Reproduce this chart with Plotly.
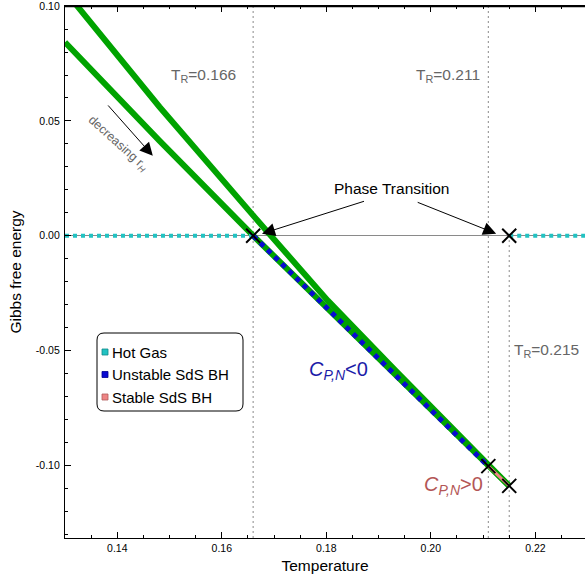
import plotly.graph_objects as go

# ---- data ----
# upper green branch of G(T)
T_upper = [0.1300, 0.1325, 0.1481, 0.1662, 0.1803, 0.1932, 0.2110, 0.2150]
G_upper = [0.1066, 0.0996, 0.0561, 0.0083, -0.0283, -0.0587, -0.0991, -0.1090]
# lower green branch of G(T)
T_lower = [0.1300, 0.1481, 0.1660, 0.1932, 0.2110, 0.2150]
G_lower = [0.0843, 0.0413, 0.0000, -0.0609, -0.1004, -0.1090]
# hot gas phase (G = 0)
T_gas = [0.1300, 0.1660, None, 0.2150, 0.2300]
G_gas = [0.0, 0.0, None, 0.0, 0.0]
# phase-transition / end points (crosses)
T_cross = [0.166, 0.215, 0.211, 0.215]
G_cross = [0.0, 0.0, -0.1004, -0.1090]
# T_R values (vertical dotted lines)
T_R = [0.166, 0.211, 0.215]

legend_names = ["Hot Gas", "Unstable SdS BH", "Stable SdS BH"]

x_ticks = [0.14, 0.16, 0.18, 0.20, 0.22]
x_ticktext = ["0.14", "0.16", "0.18", "0.20", "0.22"]
y_ticks = [0.10, 0.05, 0.0, -0.05, -0.10]
y_ticktext = ["0.10", "0.05", "0.00", "-0.05", "-0.10"]

GREEN = "#00a300"
BLUE = "#0a0ad2"
CYAN = "#22c2c2"
PINK = "#ee8585"
FONT = "Liberation Sans, Arial, sans-serif"

W, H = 585, 580
ML, MR, MT, MB = 65, 0, 6, 42
PW, PH = W - ML - MR, H - MT - MB
Y_RANGE = [-0.1317, 0.10008]


def px2paper(px, py):
    return (px - ML) / PW, 1 - (py - MT) / PH


# unstable / stable parts of the lower branch
T_unst = [t for t in T_lower if T_R[0] <= t <= T_R[1]]
G_unst = [g for t, g in zip(T_lower, G_lower) if T_R[0] <= t <= T_R[1]]
T_stab = [t for t in T_lower if T_R[1] <= t <= T_R[2]]
G_stab = [g for t, g in zip(T_lower, G_lower) if T_R[1] <= t <= T_R[2]]

fig = go.Figure()

fig.add_trace(go.Scatter(x=T_upper, y=G_upper, mode="lines",
                         line=dict(color=GREEN, width=6), showlegend=False, hoverinfo="skip"))
fig.add_trace(go.Scatter(x=T_lower, y=G_lower, mode="lines",
                         line=dict(color=GREEN, width=6), showlegend=False, hoverinfo="skip"))
fig.add_trace(go.Scatter(x=T_gas, y=G_gas, mode="lines", connectgaps=False, name=legend_names[0],
                         line=dict(color=CYAN, width=4, dash="4px,4px"), showlegend=False))
fig.add_trace(go.Scatter(x=T_unst, y=G_unst, mode="lines", name=legend_names[1],
                         line=dict(color=BLUE, width=5, dash="5px,5px"), showlegend=False))
fig.add_trace(go.Scatter(x=T_stab, y=G_stab, mode="lines", name=legend_names[2],
                         line=dict(color=PINK, width=3), showlegend=False))
fig.add_trace(go.Scatter(x=T_cross, y=G_cross, mode="markers",
                         marker=dict(symbol="x-thin-open", size=14, color="black",
                                     line=dict(color="black", width=2)),
                         showlegend=False))

shapes = []
dot = dict(color="#8a8a8a", width=1, dash="2px,3px")
# vertical dotted lines at T_R
shapes.append(dict(type="line", xref="x", yref="paper", x0=T_R[0], x1=T_R[0], y0=0, y1=1,
                   line=dot, layer="below"))
shapes.append(dict(type="line", xref="x", yref="paper", x0=T_R[1], x1=T_R[1], y0=0, y1=1,
                   line=dot, layer="below"))
shapes.append(dict(type="line", xref="x", yref="y", x0=T_R[2], x1=T_R[2], y0=-0.14, y1=0,
                   line=dot, layer="below"))
# top frame line (drawn just inside the top of the plot area)
shapes.append(dict(type="line", xref="paper", yref="y", x0=0, x1=1, y0=0.0999, y1=0.0999,
                   line=dict(color="black", width=1.5), layer="above"))

# rounded legend frame
x0, y1 = px2paper(97, 333)
x1, y0 = px2paper(243, 411)
rx, ry = 7 / PW, 7 / PH
path = (f"M {x0+rx},{y1} L {x1-rx},{y1} Q {x1},{y1} {x1},{y1-ry} "
        f"L {x1},{y0+ry} Q {x1},{y0} {x1-rx},{y0} L {x0+rx},{y0} "
        f"Q {x0},{y0} {x0},{y0+ry} L {x0},{y1-ry} Q {x0},{y1} {x0+rx},{y1} Z")
shapes.append(dict(type="path", xref="paper", yref="paper", path=path,
                   line=dict(color="black", width=1), fillcolor="white", layer="above"))

annotations = []
# legend swatches and labels
for i, (name, col, edge) in enumerate(zip(legend_names, [CYAN, BLUE, PINK],
                                          ["#138a8a", "#000090", "#b05a5a"])):
    cy = 352 + i * 22.5
    sx0, sy1 = px2paper(102, cy - 3)
    sx1, sy0 = px2paper(108, cy + 3)
    shapes.append(dict(type="rect", xref="paper", yref="paper", x0=sx0, x1=sx1, y0=sy0, y1=sy1,
                       fillcolor=col, line=dict(color=edge, width=0.8), layer="above"))
    tx, ty = px2paper(110, cy)
    annotations.append(dict(xref="paper", yref="paper", x=tx, y=ty, xanchor="left", yanchor="middle",
                            text=name, showarrow=False,
                            font=dict(size=15, color="black", family=FONT)))

GRAY_T = "#666666"
annotations += [
    dict(x=0.1565, y=0.0696, text="T<sub>R</sub>=0.166", showarrow=False,
         font=dict(size=15.5, color=GRAY_T, family=FONT)),
    dict(x=0.2033, y=0.0696, text="T<sub>R</sub>=0.211", showarrow=False,
         font=dict(size=15.5, color=GRAY_T, family=FONT)),
    dict(x=0.2155, y=-0.0500, text="T<sub>R</sub>=0.215", showarrow=False, xanchor="left",
         font=dict(size=15.5, color=GRAY_T, family=FONT)),
    dict(x=0.1401, y=0.0400, text="decreasing r<sub><i>H</i></sub>", showarrow=False, textangle=42,
         font=dict(size=12.5, color=GRAY_T, family=FONT)),
    dict(x=0.1468, y=0.0348, ax=0.1380, ay=0.0574, axref="x", ayref="y", text="",
         showarrow=True, arrowhead=2, arrowsize=2.6, arrowwidth=1, arrowcolor="black"),
    dict(x=0.1924, y=0.0205, text="Phase Transition", showarrow=False,
         font=dict(size=15.5, color="black", family=FONT)),
    dict(x=0.1677, y=0.0009, ax=0.1875, ay=0.0152, axref="x", ayref="y", text="",
         showarrow=True, arrowhead=2, arrowsize=2.6, arrowwidth=1, arrowcolor="black"),
    dict(x=0.2125, y=0.0009, ax=0.1972, ay=0.0148, axref="x", ayref="y", text="",
         showarrow=True, arrowhead=2, arrowsize=2.6, arrowwidth=1, arrowcolor="black"),
    dict(x=0.1824, y=-0.0587, text="<i>C<sub>P,N</sub></i>&lt;0", showarrow=False,
         font=dict(size=20, color="#1c1ca8", family=FONT)),
    dict(x=0.2043, y=-0.1087, text="<i>C<sub>P,N</sub></i>&gt;0", showarrow=False,
         font=dict(size=20, color="#b35656", family=FONT)),
]

fig.update_layout(
    width=W, height=H,
    margin=dict(l=ML, r=MR, t=MT, b=MB),
    plot_bgcolor="white", paper_bgcolor="white",
    font=dict(family=FONT, color="black"),
    shapes=shapes, annotations=annotations,
    showlegend=False,
)
fig.update_xaxes(range=[0.13, 0.2295], tickvals=x_ticks, ticktext=x_ticktext, automargin=False,
                 ticks="inside", ticklen=6, tickcolor="black", tickwidth=1,
                 minor=dict(dtick=0.005, ticks="inside", ticklen=3, tickcolor="black", tickwidth=1),
                 showline=True, linecolor="black", linewidth=1.3, mirror="allticks",
                 showgrid=False, zeroline=False,
                 tickfont=dict(size=10.5, family=FONT),
                 title=dict(text="Temperature", font=dict(size=15.5, family=FONT), standoff=7))
fig.update_yaxes(range=Y_RANGE, tickvals=y_ticks, ticktext=y_ticktext, automargin=False,
                 ticks="inside", ticklen=6, tickcolor="black", tickwidth=1,
                 minor=dict(dtick=0.01, ticks="inside", ticklen=3, tickcolor="black", tickwidth=1),
                 showline=True, linecolor="black", linewidth=1.3, mirror=False,
                 showgrid=False, zeroline=True, zerolinecolor="#8a8a8a", zerolinewidth=1,
                 tickfont=dict(size=10.5, family=FONT), ticklabelstandoff=2,
                 ticklabeloverflow="allow",
                 title=dict(text="Gibbs free energy", font=dict(size=15.5, family=FONT), standoff=10))

fig.write_html("out.html", config={"displayModeBar": False},
               post_script="document.body.style.margin='0';document.body.style.padding='0';")
